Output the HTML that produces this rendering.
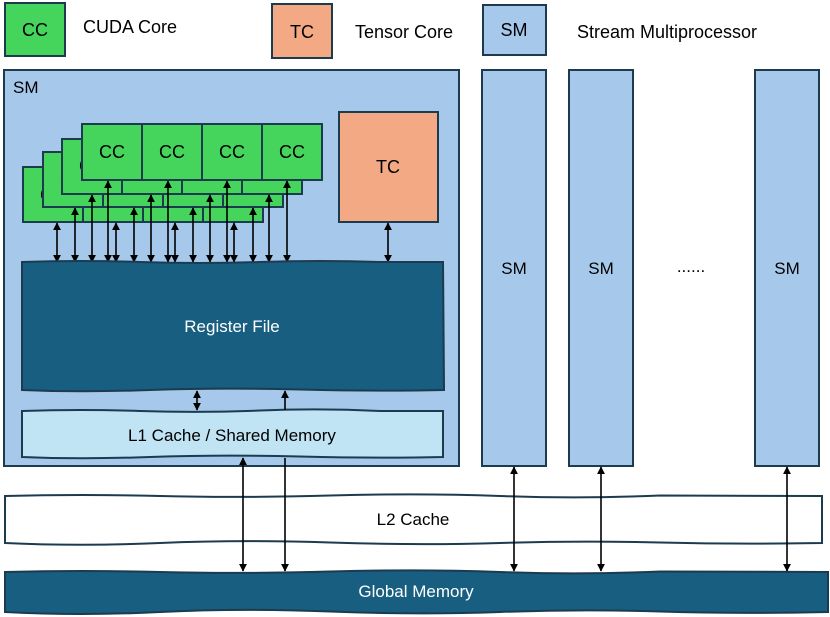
<!DOCTYPE html>
<html><head><meta charset="utf-8"><style>
html,body{margin:0;padding:0;background:#fff;}
svg{display:block;}
text{font-family:"Liberation Sans",sans-serif;}
</style></head><body>
<svg width="830" height="617" viewBox="0 0 830 617" xmlns="http://www.w3.org/2000/svg">
<defs>
<marker id="ah" viewBox="0 0 10 10" refX="9" refY="5" markerWidth="5" markerHeight="5" orient="auto-start-reverse"><path d="M0,0 L10,5 L0,10 z" fill="#000"/></marker>
</defs>
<rect x="5" y="3" width="60" height="53" fill="#45d45c" stroke="#1c3b4f" stroke-width="2"/>
<text x="35" y="36" font-size="18" text-anchor="middle">CC</text>
<text x="83" y="33" font-size="18">CUDA Core</text>
<rect x="272" y="4" width="60" height="54" fill="#f2a984" stroke="#1c3b4f" stroke-width="2"/>
<text x="302" y="38" font-size="18" text-anchor="middle">TC</text>
<text x="355" y="38" font-size="18">Tensor Core</text>
<rect x="483" y="5" width="63" height="50" fill="#a6c9eb" stroke="#1c3b4f" stroke-width="2"/>
<text x="514" y="36" font-size="18" text-anchor="middle">SM</text>
<text x="577" y="38" font-size="18">Stream Multiprocessor</text>

<rect x="4" y="70" width="455" height="396" fill="#a6c9eb" stroke="#1c3b4f" stroke-width="2"/>
<text x="13" y="93" font-size="17">SM</text>
<rect x="482" y="70" width="64" height="396" fill="#a6c9eb" stroke="#1c3b4f" stroke-width="2"/>
<text x="514" y="274" font-size="17" text-anchor="middle">SM</text>
<rect x="569" y="70" width="64" height="396" fill="#a6c9eb" stroke="#1c3b4f" stroke-width="2"/>
<text x="601" y="274" font-size="17" text-anchor="middle">SM</text>
<rect x="755" y="70" width="64" height="396" fill="#a6c9eb" stroke="#1c3b4f" stroke-width="2"/>
<text x="787" y="274" font-size="17" text-anchor="middle">SM</text>
<text x="691" y="272" font-size="17" text-anchor="middle">......</text>

<g stroke="#1c3b4f" stroke-width="2" fill="#45d45c">
<rect x="23" y="167" width="60" height="55"/><rect x="83" y="167" width="60" height="55"/><rect x="143" y="167" width="60" height="55"/><rect x="203" y="167" width="60" height="55"/>
</g>
<g font-size="18" text-anchor="middle"><text x="53" y="201">CC</text></g>
<g stroke="#1c3b4f" stroke-width="2" fill="#45d45c">
<rect x="43" y="152" width="60" height="55"/><rect x="103" y="152" width="60" height="55"/><rect x="163" y="152" width="60" height="55"/><rect x="223" y="152" width="60" height="55"/>
</g>
<g font-size="18" text-anchor="middle"><text x="73" y="186">CC</text></g>
<g stroke="#1c3b4f" stroke-width="2" fill="#45d45c">
<rect x="62" y="139" width="60" height="55"/><rect x="122" y="139" width="60" height="55"/><rect x="182" y="139" width="60" height="55"/><rect x="242" y="139" width="60" height="55"/>
</g>
<g font-size="18" text-anchor="middle"><text x="92" y="172">CC</text></g>
<g stroke="#1c3b4f" stroke-width="2" fill="#45d45c">
<rect x="82" y="124" width="60" height="56"/><rect x="142" y="124" width="60" height="56"/><rect x="202" y="124" width="60" height="56"/><rect x="262" y="124" width="60" height="56"/>
</g>
<g font-size="18" text-anchor="middle">
<text x="112" y="158">CC</text><text x="172" y="158">CC</text><text x="232" y="158">CC</text><text x="292" y="158">CC</text>
</g>
<rect x="339" y="112" width="99" height="110" fill="#f2a984" stroke="#1c3b4f" stroke-width="2"/>
<text x="388" y="173" font-size="18" text-anchor="middle">TC</text>

<g stroke="#000" stroke-width="1.6" marker-start="url(#ah)" marker-end="url(#ah)">
<line x1="108" y1="181" x2="108" y2="262"/><line x1="168" y1="181" x2="168" y2="262"/><line x1="227" y1="181" x2="227" y2="262"/><line x1="287" y1="181" x2="287" y2="262"/>
<line x1="92" y1="195" x2="92" y2="262"/><line x1="151" y1="195" x2="151" y2="262"/><line x1="210" y1="195" x2="210" y2="262"/><line x1="269" y1="195" x2="269" y2="262"/>
<line x1="75" y1="208" x2="75" y2="262"/><line x1="134" y1="208" x2="134" y2="262"/><line x1="193" y1="208" x2="193" y2="262"/><line x1="253" y1="208" x2="253" y2="262"/>
<line x1="57" y1="223" x2="57" y2="262"/><line x1="116" y1="223" x2="116" y2="262"/><line x1="175" y1="223" x2="175" y2="262"/><line x1="234" y1="223" x2="234" y2="262"/>
<line x1="388" y1="223" x2="388" y2="262"/>
</g>

<path d="M22,262 Q80,260 140,262 T260,262 T380,262 L443,262 L444,390 Q380,391.5 300,389.5 T150,390 T22,390 Z" fill="#175e80" stroke="#1c3b4f" stroke-width="2"/>
<text x="232" y="332" font-size="17" text-anchor="middle" fill="#fff">Register File</text>
<path d="M22,411 Q80,409 140,411 T260,410.5 T380,411 L443,411 L443,457 Q380,458.5 300,456.5 T150,457 T22,457 Z" fill="#c0e4f4" stroke="#1c3b4f" stroke-width="2"/>
<text x="232" y="441" font-size="17" text-anchor="middle">L1 Cache / Shared Memory</text>
<g stroke="#000" stroke-width="1.6">
<line x1="197" y1="391" x2="197" y2="410" marker-start="url(#ah)" marker-end="url(#ah)"/>
<line x1="285" y1="410" x2="285" y2="391" marker-end="url(#ah)"/>
</g>

<path d="M5,496 Q80,494 160,496 T330,495.5 T500,496 T660,495.5 L822,496 L822,543 Q740,544.5 660,542.5 T500,543 T330,542.5 T160,543 T5,543 Z" fill="#fff" stroke="#1c3b4f" stroke-width="2"/>
<text x="413" y="525" font-size="17" text-anchor="middle">L2 Cache</text>
<path d="M5,572 Q80,570 160,572 T330,571.5 T500,572 T660,571.5 L828,572 L828,612 Q740,614 660,611.5 T500,612 T330,611.5 T160,612 T5,612 Z" fill="#175e80" stroke="#1c3b4f" stroke-width="2"/>
<text x="416" y="597" font-size="17" text-anchor="middle" fill="#fff">Global Memory</text>

<g stroke="#000" stroke-width="1.6">
<line x1="243" y1="458" x2="243" y2="571" marker-start="url(#ah)" marker-end="url(#ah)"/>
<line x1="285" y1="458" x2="285" y2="571" marker-end="url(#ah)"/>
<line x1="514" y1="467" x2="514" y2="571" marker-start="url(#ah)" marker-end="url(#ah)"/>
<line x1="601" y1="467" x2="601" y2="571" marker-start="url(#ah)" marker-end="url(#ah)"/>
<line x1="787" y1="467" x2="787" y2="571" marker-start="url(#ah)" marker-end="url(#ah)"/>
</g>
</svg>
</body></html>
